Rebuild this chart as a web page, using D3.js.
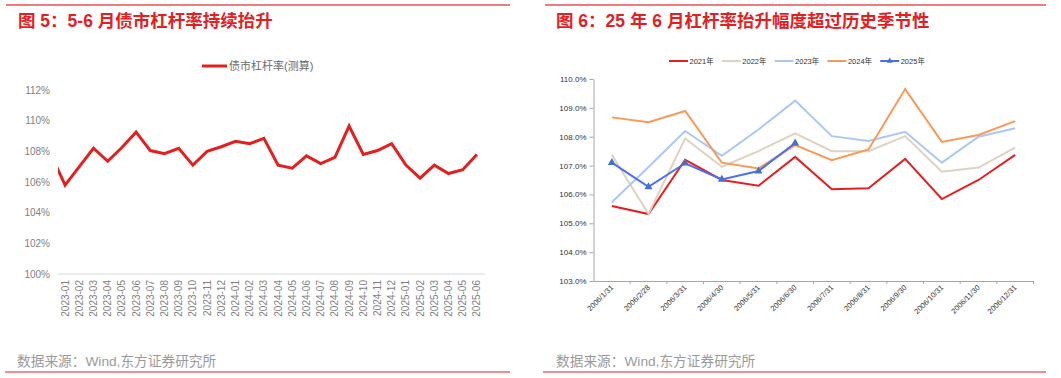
<!DOCTYPE html>
<html>
<head>
<meta charset="utf-8">
<script src="https://cdn.jsdelivr.net/npm/d3@7"></script>
<style>
  body { margin: 0; background: #fff; }
  svg text { font-family: "Liberation Sans", Arial, "Noto Sans CJK SC", sans-serif; }
</style>
</head>
<body>
<div id="chart"></div>
<script>
// ---- data, left chart (figure 5)
var leftTitle = "图 5：5-6 月债市杠杆率持续抬升"
var leftSeriesName = "债市杠杆率(测算)"
// the first month sits before the plot edge and is clipped, as in the source
var months = ["2022-12",
  "2023-01", "2023-02", "2023-03", "2023-04", "2023-05", "2023-06", "2023-07", "2023-08", "2023-09", "2023-10", "2023-11", "2023-12",
  "2024-01", "2024-02", "2024-03", "2024-04", "2024-05", "2024-06", "2024-07", "2024-08", "2024-09", "2024-10", "2024-11", "2024-12",
  "2025-01", "2025-02", "2025-03", "2025-04", "2025-05", "2025-06"]
var leverage = [107.8,
  105.8, 107.0, 108.2, 107.35, 108.25, 109.25, 108.05, 107.85, 108.2, 107.1, 108.0, 108.3,
  108.65, 108.5, 108.85, 107.1, 106.9, 107.7, 107.2, 107.6, 109.65, 107.8, 108.05, 108.5,
  107.1, 106.25, 107.1, 106.55, 106.8, 107.8]
var leftTicks = [100, 102, 104, 106, 108, 110, 112]

// ---- data, right chart (figure 6)
var rightTitle = "图 6：25 年 6 月杠杆率抬升幅度超过历史季节性"
var dates = ["2006/1/31", "2006/2/28", "2006/3/31", "2006/4/30", "2006/5/31", "2006/6/30",
  "2006/7/31", "2006/8/31", "2006/9/30", "2006/10/31", "2006/11/30", "2006/12/31"]
var years = ["2021年", "2022年", "2023年", "2024年", "2025年"]
var y2021 = [105.6, 105.32, 107.2, 106.5, 106.3, 107.3, 106.18, 106.21, 107.23, 105.84, 106.5, 107.37]
var y2022 = [107.37, 105.32, 107.94, 106.96, 107.5, 108.12, 107.5, 107.5, 108.02, 106.79, 106.93, 107.62]
var y2023 = [105.73, 106.95, 108.2, 107.34, 108.25, 109.25, 108.02, 107.85, 108.17, 107.1, 108.0, 108.29]
var y2024 = [108.67, 108.5, 108.89, 107.1, 106.9, 107.71, 107.19, 107.56, 109.65, 107.82, 108.06, 108.54]
var y2025 = [107.1, 106.26, 107.08, 106.52, 106.81, 107.78]
var rightTicks = [103, 104, 105, 106, 107, 108, 109, 110]
var source = "数据来源：Wind,东方证券研究所"

var red = "#e3201f"
var svg = d3.select("#chart")
  .append("svg")
  .attr("width", 1061)
  .attr("height", 378)

// ================= left panel =================
var left = svg.append("g")

left.append("line")
  .attr("x1", 6).attr("x2", 510).attr("y1", 5).attr("y2", 5)
  .attr("stroke", "#ef7b7b").attr("stroke-width", 2)
left.append("text")
  .attr("x", 18).attr("y", 27)
  .attr("fill", red)
  .attr("font-size", 17.5)
  .attr("font-weight", "bold")
  .text(leftTitle)

var x1 = d3.scaleBand()
  .domain(months)
  .range([58 - 426 / 30, 484])
var y1 = d3.scaleLinear()
  .domain([100, 112])
  .range([274, 90])

left.selectAll("ytick")
  .data(leftTicks)
  .enter()
  .append("text")
  .attr("x", 50)
  .attr("y", function(d) { return y1(d) })
  .attr("dy", "0.35em")
  .attr("text-anchor", "end")
  .attr("font-size", 10)
  .attr("fill", "#7f7f7f")
  .text(function(d) { return d + "%" })

left.append("line")
  .attr("x1", 58).attr("x2", 485)
  .attr("y1", y1(100)).attr("y2", y1(100))
  .attr("stroke", "#d9d9d9")

left.selectAll("xlab")
  .data(months.slice(1))
  .enter()
  .append("text")
  .attr("transform", function(d) {
    return "translate(" + (x1(d) + x1.bandwidth() / 2 + 3.5) + ",280) rotate(-90)"
  })
  .attr("text-anchor", "end")
  .attr("font-size", 10)
  .attr("fill", "#7f7f7f")
  .text(function(d) { return d })

svg.append("clipPath")
  .attr("id", "clipL")
  .append("rect")
  .attr("x", 58).attr("y", 60).attr("width", 430).attr("height", 220)

var line1 = d3.line()
  .x(function(d, i) { return x1(months[i]) + x1.bandwidth() / 2 })
  .y(function(d) { return y1(d) })

left.append("path")
  .datum(leverage)
  .attr("clip-path", "url(#clipL)")
  .attr("d", line1)
  .attr("fill", "none")
  .attr("stroke", red)
  .attr("stroke-width", 3)
  .attr("stroke-linejoin", "miter")

// legend
left.append("line")
  .attr("x1", 202).attr("x2", 227).attr("y1", 66).attr("y2", 66)
  .attr("stroke", red).attr("stroke-width", 3)
left.append("text")
  .attr("x", 229).attr("y", 66)
  .attr("dy", "0.35em")
  .attr("font-size", 11)
  .attr("fill", "#6b6b6b")
  .text(leftSeriesName)

left.append("text")
  .attr("x", 17).attr("y", 366)
  .attr("font-size", 13.7)
  .attr("fill", "#9a9a9a")
  .text(source)
left.append("line")
  .attr("x1", 5).attr("x2", 510).attr("y1", 372).attr("y2", 372)
  .attr("stroke", "#e81c1c").attr("stroke-width", 1.2)

// ================= right panel =================
var right = svg.append("g")

right.append("line")
  .attr("x1", 545).attr("x2", 1046).attr("y1", 5).attr("y2", 5)
  .attr("stroke", "#ef7b7b").attr("stroke-width", 2)
right.append("text")
  .attr("x", 556).attr("y", 27)
  .attr("fill", red)
  .attr("font-size", 17.5)
  .attr("font-weight", "bold")
  .text(rightTitle)

var x2 = d3.scaleBand()
  .domain(dates)
  .range([593.5, 1033.5])
var y2 = d3.scaleLinear()
  .domain([103, 110])
  .range([281, 79])

var yAxis2 = right.append("g")
  .attr("transform", "translate(593.5,0)")
  .call(d3.axisLeft(y2).tickValues(rightTicks).tickSize(4).tickSizeOuter(0)
    .tickFormat(function(d) { return d.toFixed(1) + "%" }))
yAxis2.selectAll("line, path").attr("stroke", "#a6a6a6")
yAxis2.selectAll("text")
  .attr("font-size", 8)
  .attr("fill", "#333")
  .attr("x", -7)

var xAxis2 = right.append("g")
  .attr("transform", "translate(0,281)")
  .call(d3.axisBottom(x2).tickSize(0).tickSizeOuter(0).tickFormat(""))
xAxis2.selectAll("path").attr("stroke", "#a6a6a6")
// ticks at the band edges
right.selectAll("xtick")
  .data(dates)
  .enter()
  .append("line")
  .attr("x1", function(d) { return x2(d) + x2.bandwidth() })
  .attr("x2", function(d) { return x2(d) + x2.bandwidth() })
  .attr("y1", 281).attr("y2", 284)
  .attr("stroke", "#a6a6a6")

right.selectAll("xlab")
  .data(dates)
  .enter()
  .append("text")
  .attr("transform", function(d) {
    return "translate(" + (x2(d) + x2.bandwidth() / 2 + 2) + ",288) rotate(-45)"
  })
  .attr("text-anchor", "end")
  .attr("font-size", 7.5)
  .attr("fill", "#333")
  .text(function(d) { return d })

var colors = ["#e3201f", "#ddd3be", "#a9c8f7", "#f89a55", "#4d6ef2"]
var series = [y2021, y2022, y2023, y2024, y2025]

var line2 = d3.line()
  .x(function(d, i) { return x2(dates[i]) + x2.bandwidth() / 2 })
  .y(function(d) { return y2(d) })

right.selectAll("series")
  .data(series)
  .enter()
  .append("path")
  .attr("d", line2)
  .attr("fill", "none")
  .attr("stroke", function(d, i) { return colors[i] })
  .attr("stroke-width", 2)

var tri = d3.symbol().type(d3.symbolTriangle).size(28)
right.selectAll("marker")
  .data(y2025)
  .enter()
  .append("path")
  .attr("d", tri)
  .attr("transform", function(d, i) {
    return "translate(" + (x2(dates[i]) + x2.bandwidth() / 2) + "," + y2(d) + ")"
  })
  .attr("fill", "#4472c4")

// legend
var leg = right.selectAll("legend")
  .data(years)
  .enter()
  .append("g")
  .attr("transform", function(d, i) { return "translate(" + (669 + i * 52.8) + ",61)" })
leg.append("line")
  .attr("x1", 0).attr("x2", 19)
  .attr("stroke", function(d, i) { return colors[i] })
  .attr("stroke-width", 2)
leg.append("text")
  .attr("x", 20.5)
  .attr("dy", "0.35em")
  .attr("font-size", 7.5)
  .attr("fill", "#333")
  .text(function(d) { return d })
leg.filter(function(d, i) { return i == 4 })
  .append("path")
  .attr("d", d3.symbol().type(d3.symbolTriangle).size(16))
  .attr("transform", "translate(9.5,0)")
  .attr("fill", "#4472c4")

right.append("text")
  .attr("x", 556).attr("y", 366)
  .attr("font-size", 13.7)
  .attr("fill", "#9a9a9a")
  .text(source)
right.append("line")
  .attr("x1", 543).attr("x2", 1046).attr("y1", 372).attr("y2", 372)
  .attr("stroke", "#e81c1c").attr("stroke-width", 1.2)
</script>
</body>
</html>
